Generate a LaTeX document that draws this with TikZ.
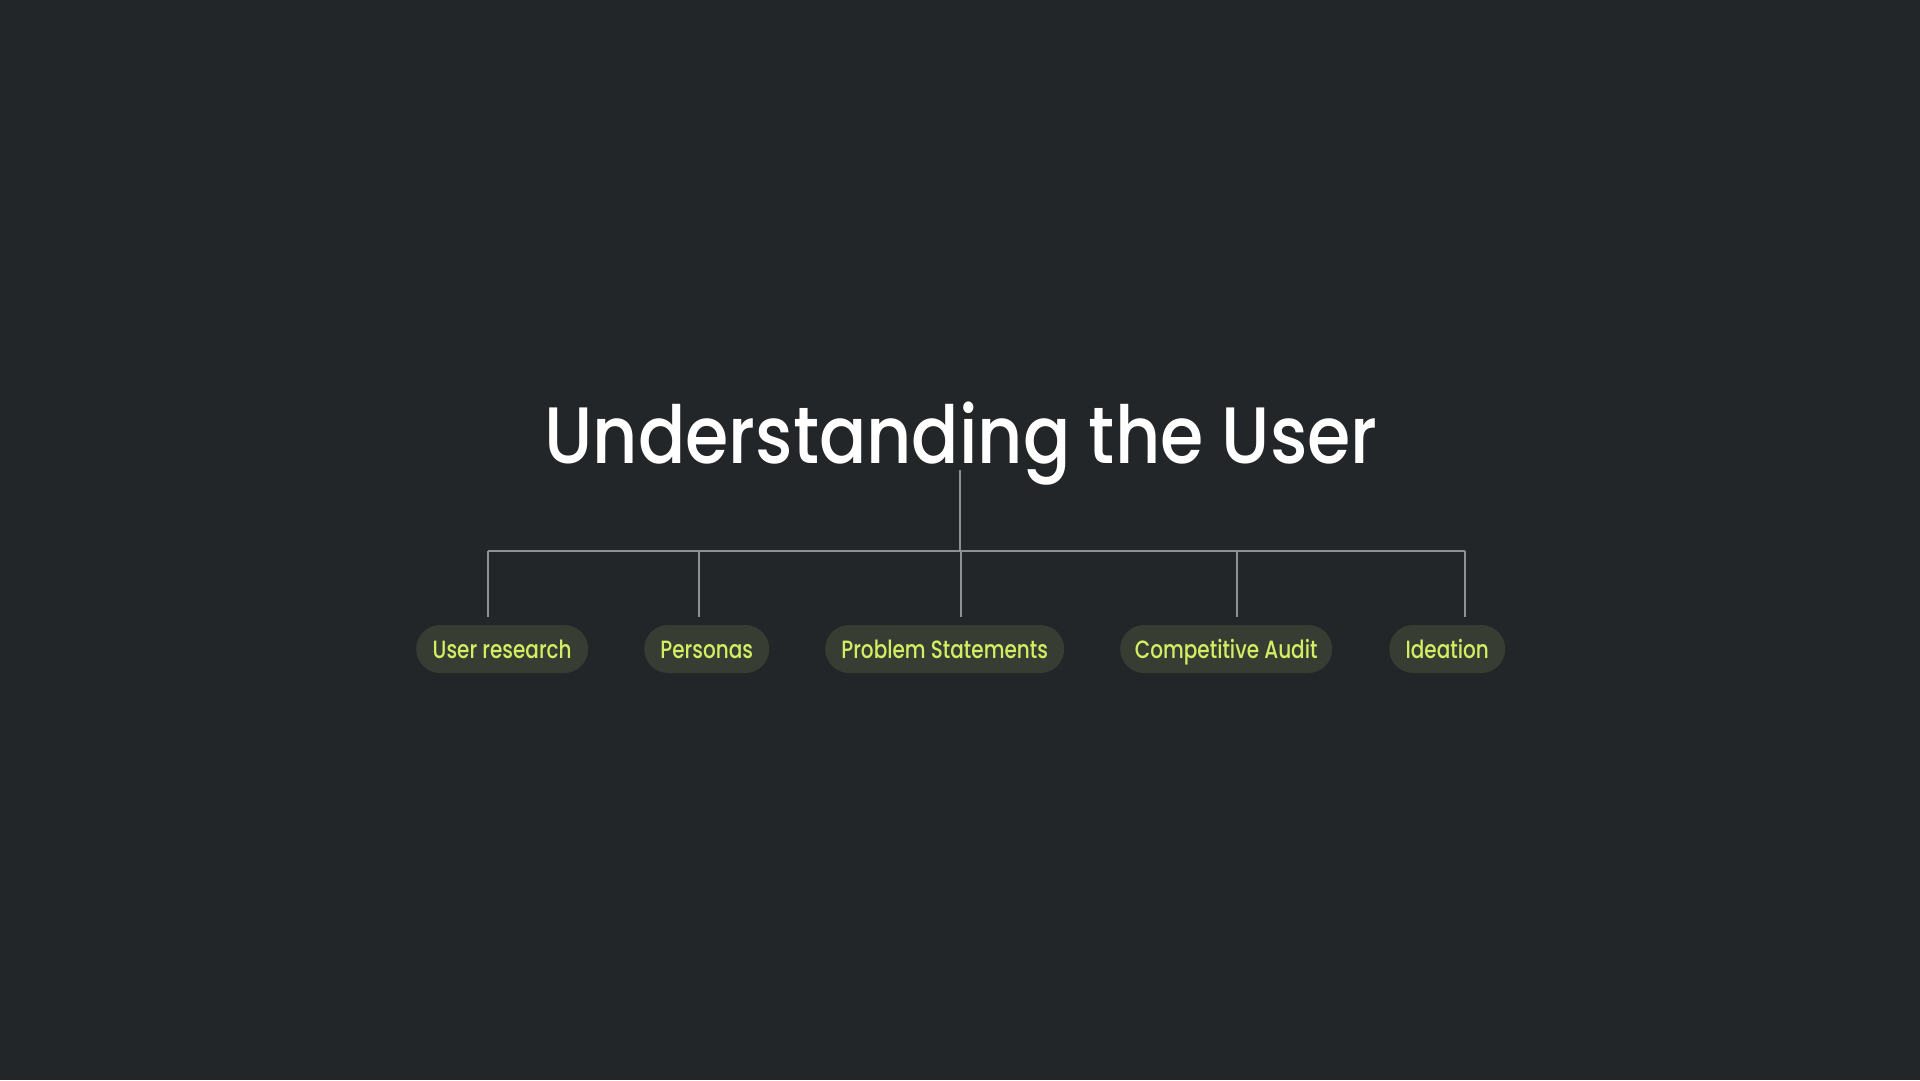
\documentclass[tikz,border=0pt]{standalone}
\usepackage{graphicx}
\usepackage{fontspec}
\setmainfont{Poppins Medium}
\definecolor{bg}{HTML}{232629}
\definecolor{pillfill}{HTML}{383D33}
\definecolor{pilltext}{HTML}{D2EF63}
\definecolor{linegray}{HTML}{8E9194}
\newcommand\pillsq[1]{\scalebox{0.8}[1]{#1}}
\newcommand\titlesq[1]{\scalebox{0.875}[1]{#1}}
\tikzset{
  pill/.style={fill=pillfill, rounded corners=24pt, minimum height=48pt, inner sep=0pt,
    text height=18pt, text depth=0pt,
    text=pilltext, font=\fontsize{25}{30}\selectfont, anchor=west},
  conn/.style={draw=linegray, line width=1.5pt},
  titletext/.style={text=white, font=\fontsize{80}{96}\selectfont, inner sep=0pt}
}
\begin{document}
\begin{tikzpicture}[x=1pt,y=-1pt]
\useasboundingbox[fill=bg] (0,0) rectangle (1920,1080);
\node[titletext, anchor=base] (title) at (961,463) {\titlesq{Understanding the User}};
\coordinate (tb) at (960,470);
\coordinate (hub) at (960,551);
\coordinate (h1) at (488,551);
\coordinate (h2) at (699,551);
\coordinate (h3) at (961,551);
\coordinate (h4) at (1237,551);
\coordinate (h5) at (1465,551);
\coordinate (e1) at (488,617);
\coordinate (e2) at (699,617);
\coordinate (e3) at (961,617);
\coordinate (e4) at (1237,617);
\coordinate (e5) at (1465,617);
\node[pill, minimum width=172pt] (p1) at (416,649) {\pillsq{User research}};
\node[pill, minimum width=125pt] (p2) at (644,649) {\pillsq{Personas}};
\node[pill, minimum width=239pt] (p3) at (825,649) {\pillsq{Problem Statements}};
\node[pill, minimum width=212pt] (p4) at (1120,649) {\pillsq{Competitive Audit}};
\node[pill, minimum width=116pt] (p5) at (1389,649) {\pillsq{Ideation}};
\draw[conn] (tb) -- (hub);
\draw[conn] (h1) -- (h5);
\draw[conn] (h1) -- (e1);
\draw[conn] (h2) -- (e2);
\draw[conn] (h3) -- (e3);
\draw[conn] (h4) -- (e4);
\draw[conn] (h5) -- (e5);
\end{tikzpicture}
\end{document}
